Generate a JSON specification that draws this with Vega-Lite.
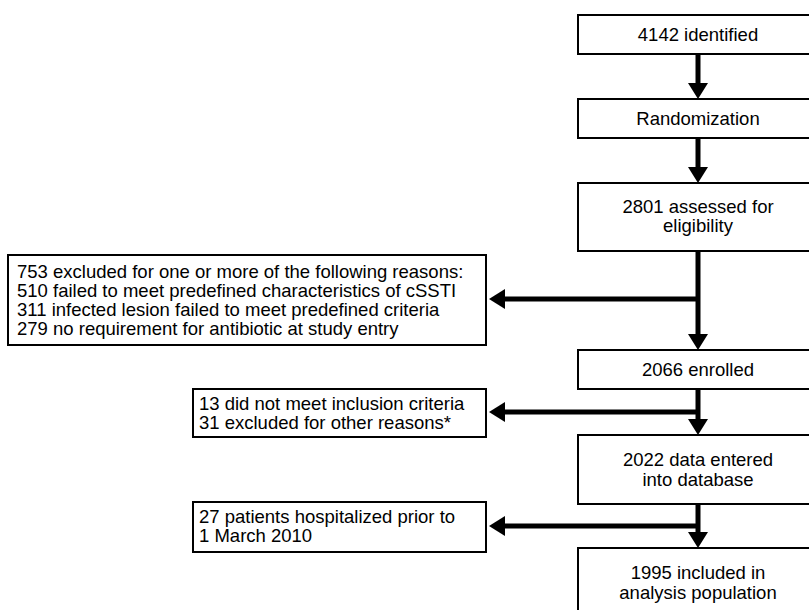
{
  "$schema": "https://vega.github.io/schema/vega-lite/v6.json",
  "width": 809,
  "height": 610,
  "autosize": {"type": "none"},
  "padding": 0,
  "background": "white",
  "config": {"view": {"stroke": null}, "font": "Liberation Sans"},
  "datasets": {
    "boxes": [
      {"x": 578, "x2": 818, "y": 15, "y2": 54},
      {"x": 578, "x2": 818, "y": 99, "y2": 138},
      {"x": 578, "x2": 818, "y": 183, "y2": 251},
      {"x": 8, "x2": 486, "y": 255, "y2": 345},
      {"x": 578, "x2": 818, "y": 350, "y2": 389},
      {"x": 193, "x2": 486, "y": 389, "y2": 437},
      {"x": 578, "x2": 818, "y": 435, "y2": 504},
      {"x": 193, "x2": 486, "y": 502, "y2": 552},
      {"x": 578, "x2": 818, "y": 548, "y2": 618}
    ],
    "lines": [
      {"x": 698, "x2": 698, "y": 54, "y2": 84},
      {"x": 698, "x2": 698, "y": 138, "y2": 168},
      {"x": 698, "x2": 698, "y": 251, "y2": 335},
      {"x": 698, "x2": 698, "y": 389, "y2": 420},
      {"x": 698, "x2": 698, "y": 504, "y2": 533},
      {"x": 504, "x2": 698, "y": 299, "y2": 299},
      {"x": 504, "x2": 698, "y": 412, "y2": 412},
      {"x": 504, "x2": 698, "y": 526, "y2": 526}
    ],
    "heads": [
      {"x": 698, "y": 91, "dir": "down"},
      {"x": 698, "y": 175, "dir": "down"},
      {"x": 698, "y": 342, "dir": "down"},
      {"x": 698, "y": 427, "dir": "down"},
      {"x": 698, "y": 540, "dir": "down"},
      {"x": 497, "y": 299, "dir": "left"},
      {"x": 497, "y": 412, "dir": "left"},
      {"x": 497, "y": 526, "dir": "left"}
    ],
    "centerText": [
      {"x": 698, "y": 34.5, "t": "4142 identified"},
      {"x": 698, "y": 118.5, "t": "Randomization"},
      {"x": 698, "y": 207, "t": "2801 assessed for"},
      {"x": 698, "y": 226, "t": "eligibility"},
      {"x": 698, "y": 369.5, "t": "2066 enrolled"},
      {"x": 698, "y": 460, "t": "2022 data entered"},
      {"x": 698, "y": 480, "t": "into database"},
      {"x": 698, "y": 573, "t": "1995 included in"},
      {"x": 698, "y": 593, "t": "analysis population"}
    ],
    "leftText": [
      {"x": 17, "y": 272, "t": "753 excluded for one or more of the following reasons:"},
      {"x": 17, "y": 291, "t": "510 failed to meet predefined characteristics of cSSTI"},
      {"x": 17, "y": 310, "t": "311 infected lesion failed to meet predefined criteria"},
      {"x": 17, "y": 329, "t": "279 no requirement for antibiotic at study entry"},
      {"x": 199, "y": 404, "t": "13 did not meet inclusion criteria"},
      {"x": 199, "y": 423, "t": "31 excluded for other reasons*"},
      {"x": 199, "y": 517, "t": "27 patients hospitalized prior to"},
      {"x": 199, "y": 536, "t": "1 March 2010"}
    ]
  },
  "encoding": {
    "x": {"field": "x", "type": "quantitative", "axis": null, "scale": {"domain": [0, 809], "nice": false, "zero": false}},
    "y": {"field": "y", "type": "quantitative", "axis": null, "scale": {"domain": [0, 610], "nice": false, "zero": false, "reverse": true}}
  },
  "layer": [
    {
      "data": {"name": "boxes"},
      "mark": {"type": "rect", "fill": "white", "stroke": "black", "strokeWidth": 2, "clip": true},
      "encoding": {
        "x2": {"field": "x2"},
        "y2": {"field": "y2"}
      }
    },
    {
      "data": {"name": "lines"},
      "mark": {"type": "rule", "color": "black", "strokeWidth": 5, "strokeCap": "butt"},
      "encoding": {
        "x2": {"field": "x2"},
        "y2": {"field": "y2"}
      }
    },
    {
      "data": {"name": "heads"},
      "mark": {"type": "point", "filled": true, "color": "black", "opacity": 1, "size": 400, "strokeWidth": 0},
      "encoding": {
        "shape": {
          "field": "dir",
          "type": "nominal",
          "legend": null,
          "scale": {"domain": ["down", "left"], "range": ["M-1,-0.8L1,-0.8L0,0.8Z", "M0.8,-1L0.8,1L-0.8,0Z"]}
        }
      }
    },
    {
      "data": {"name": "centerText"},
      "mark": {"type": "text", "align": "center", "baseline": "middle", "fontSize": 18.5, "color": "black"},
      "encoding": {"text": {"field": "t"}}
    },
    {
      "data": {"name": "leftText"},
      "mark": {"type": "text", "align": "left", "baseline": "middle", "fontSize": 18.5, "color": "black"},
      "encoding": {"text": {"field": "t"}}
    }
  ]
}
